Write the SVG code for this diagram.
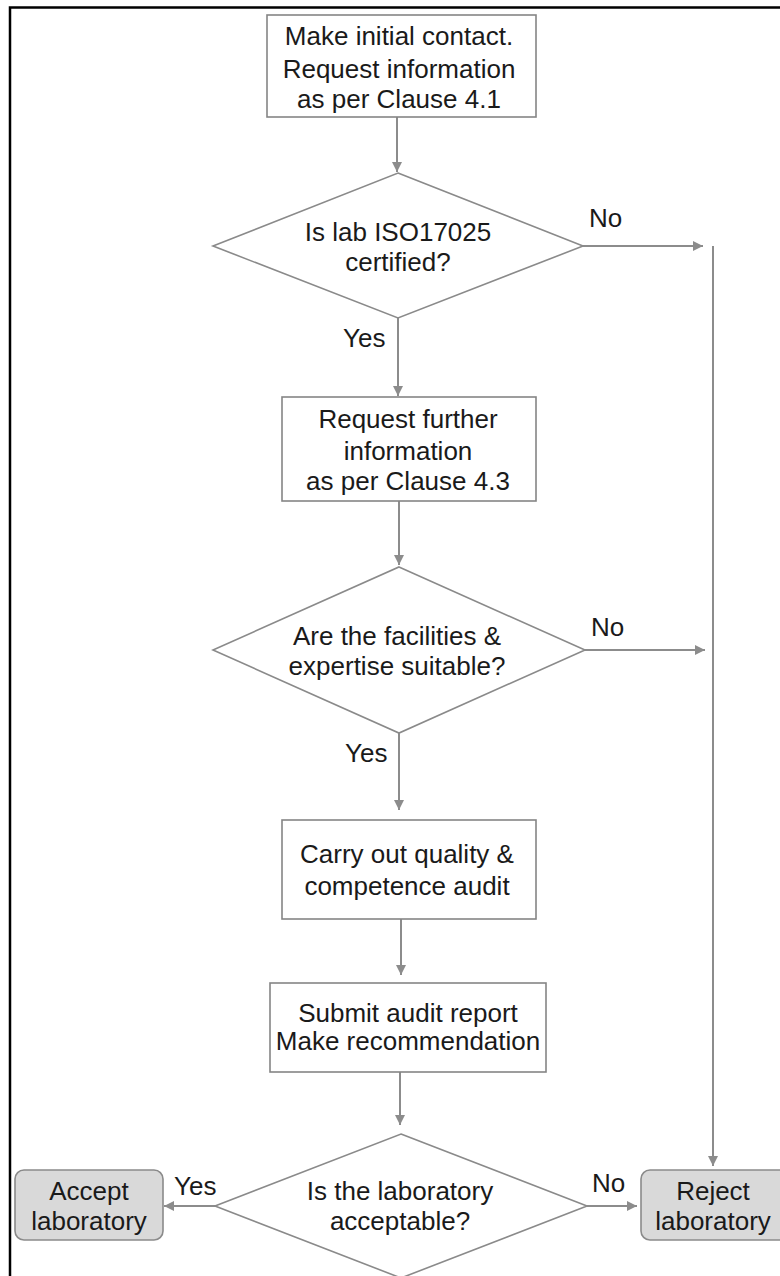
<svg xmlns="http://www.w3.org/2000/svg" width="780" height="1276" viewBox="0 0 780 1276">
<style>
text{font-family:"Liberation Sans",Arial,sans-serif;font-size:26px;fill:#1a1a1a;text-anchor:middle}
.lbl{text-anchor:start}
.box{fill:#fff;stroke:#858585;stroke-width:1.6}
.term{fill:#d9d9d9;stroke:#8a8a8a;stroke-width:1.6}
.dia{fill:#fff;stroke:#8a8a8a;stroke-width:1.6}
.con{fill:none;stroke:#8c8c8c;stroke-width:2}
.frame{stroke:#000;stroke-width:2.5;fill:none}
</style>
<defs>
<marker id="ah" viewBox="0 0 10 10" refX="10" refY="5" markerWidth="5" markerHeight="5" orient="auto" markerUnits="strokeWidth">
<path d="M0,0 L10,5 L0,10 z" fill="#8c8c8c"/>
</marker>
</defs>
<rect width="780" height="1276" fill="#fff"/>
<path class="frame" d="M10,1276 L10,7.5 L780,7.5"/>
<g id="connectors">
<line class="con" x1="397" y1="117" x2="397" y2="172" marker-end="url(#ah)"/>
<line class="con" x1="583" y1="246" x2="703" y2="246" marker-end="url(#ah)"/>
<line class="con" x1="713" y1="246" x2="713" y2="1166" marker-end="url(#ah)"/>
<line class="con" x1="398" y1="318" x2="398" y2="396" marker-end="url(#ah)"/>
<line class="con" x1="399" y1="501" x2="399" y2="565" marker-end="url(#ah)"/>
<line class="con" x1="585" y1="650" x2="705" y2="650" marker-end="url(#ah)"/>
<line class="con" x1="399" y1="733" x2="399" y2="810" marker-end="url(#ah)"/>
<line class="con" x1="401" y1="919" x2="401" y2="975" marker-end="url(#ah)"/>
<line class="con" x1="400" y1="1072" x2="400" y2="1125" marker-end="url(#ah)"/>
<line class="con" x1="215" y1="1206" x2="164" y2="1206" marker-end="url(#ah)"/>
<line class="con" x1="587" y1="1206" x2="637" y2="1206" marker-end="url(#ah)"/>
<text class="lbl" x="589" y="227">No</text>
<text class="lbl" x="343" y="347">Yes</text>
<text class="lbl" x="591" y="636">No</text>
<text class="lbl" x="345" y="762">Yes</text>
<text class="lbl" x="174" y="1195">Yes</text>
<text class="lbl" x="592" y="1192">No</text>
</g>
<g id="start">
<rect class="box" x="267" y="15" width="269" height="102"/>
<text x="399" y="45">Make initial contact.</text>
<text x="399" y="78">Request information</text>
<text x="399" y="108">as per Clause 4.1</text>
</g>
<g id="q-iso">
<polygon class="dia" points="398,173 583,246 398,318 213,246"/>
<text x="398" y="241">Is lab ISO17025</text>
<text x="398" y="271">certified?</text>
</g>
<g id="request-further">
<rect class="box" x="282" y="397" width="254" height="104"/>
<text x="408" y="428">Request further</text>
<text x="408" y="460">information</text>
<text x="408" y="490">as per Clause 4.3</text>
</g>
<g id="q-facilities">
<polygon class="dia" points="399,567 585,650 399,733 213,650"/>
<text x="397" y="645">Are the facilities &amp;</text>
<text x="397" y="675">expertise suitable?</text>
</g>
<g id="audit">
<rect class="box" x="282" y="820" width="254" height="99"/>
<text x="407" y="863">Carry out quality &amp;</text>
<text x="407" y="895">competence audit</text>
</g>
<g id="report">
<rect class="box" x="270" y="983" width="276" height="89"/>
<text x="408" y="1022">Submit audit report</text>
<text x="408" y="1050">Make recommendation</text>
</g>
<g id="q-acceptable">
<polygon class="dia" points="401,1134 587,1206 401,1278 215,1206"/>
<text x="400" y="1200">Is the laboratory</text>
<text x="400" y="1230">acceptable?</text>
</g>
<g id="accept">
<rect class="term" x="15" y="1170" width="148" height="70" rx="9"/>
<text x="89" y="1200">Accept</text>
<text x="89" y="1230">laboratory</text>
</g>
<g id="reject">
<rect class="term" x="641" y="1170" width="148" height="70" rx="9"/>
<text x="713" y="1200">Reject</text>
<text x="713" y="1230">laboratory</text>
</g>
</svg>
